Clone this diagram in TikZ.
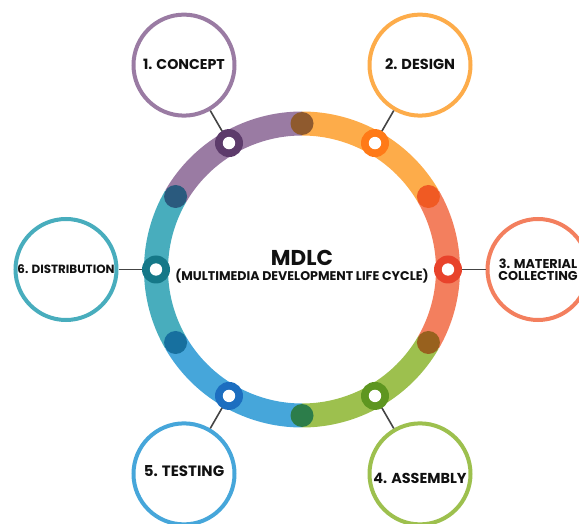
\documentclass[tikz,border=0pt]{standalone}
\usepackage{fontspec}
\setmainfont{Poppins}
\definecolor{cPur}{HTML}{9A7BA3}
\definecolor{cOra}{HTML}{FDAC4A}
\definecolor{cSal}{HTML}{F37F5E}
\definecolor{cGre}{HTML}{9DC04E}
\definecolor{cBlu}{HTML}{46A6DA}
\definecolor{cTea}{HTML}{48ADBD}
\definecolor{dPur}{HTML}{5D3B6B}
\definecolor{dOra}{HTML}{FF7A17}
\definecolor{dSal}{HTML}{E8432B}
\definecolor{dGre}{HTML}{5E9620}
\definecolor{dBlu}{HTML}{1C6EC0}
\definecolor{dTea}{HTML}{157888}
\definecolor{sTop}{HTML}{8F5A2E}
\definecolor{sUR}{HTML}{F05A23}
\definecolor{sLR}{HTML}{98611E}
\definecolor{sBot}{HTML}{2C7D4A}
\definecolor{sLL}{HTML}{17709F}
\definecolor{sUL}{HTML}{2A5A7E}
\definecolor{txt}{HTML}{111111}
\definecolor{lineg}{HTML}{444444}
\tikzset{
  outer/.style={circle, minimum size=101, line width=4, fill=white, inner sep=0},
  lbl/.style={text=txt, font=\bfseries, align=center, inner sep=0},
  wdot/.style={circle, minimum size=28, inner sep=0},
  sdot/.style={circle, minimum size=23, inner sep=0},
  conn/.style={draw=lineg, line width=1.6},
  band/.style={line width=24}
}
\begin{document}
\begin{tikzpicture}[x=1pt,y=1pt]
\useasboundingbox (0,0) rectangle (579,523);
\clip (0,0) rectangle (579,523);
\coordinate (c) at (302,253.5);
\def\R{146}
\def\D{236}
% ring
\foreach \a/\col in {90/cPur,30/cOra,-30/cSal,-90/cGre,-150/cBlu,150/cTea}
  \draw[band,\col] ([shift={(c)}]\a:\R) arc[start angle=\a, end angle=\a+60, radius=\R];
% outer circles
\node[outer, draw=cPur] (concept) at ([shift={(c)}]120:\D) {};
\node[outer, draw=cOra] (design) at ([shift={(c)}]60:\D) {};
\node[outer, draw=cSal] (material) at ([shift={(c)}]0:\D) {};
\node[outer, draw=cGre] (assembly) at ([shift={(c)}]-60:\D) {};
\node[outer, draw=cBlu] (testing) at ([shift={(c)}]-120:\D) {};
\node[outer, draw=cTea] (distribution) at ([shift={(c)}]180:\D) {};
% labels
\node[lbl] (tconcept) at ([yshift=1]concept.center) {\fontsize{14.2}{14}\selectfont 1. CONCEPT};
\node[lbl] (tdesign) at ([yshift=1]design.center) {\fontsize{14.5}{14}\selectfont 2. DESIGN};
\node[lbl] (tmaterial) at ([yshift=0]material.center) {\fontsize{12.8}{10.5}\selectfont 3. MATERIAL\\\fontsize{12.8}{10.5}\selectfont COLLECTING};
\node[lbl] (tassembly) at ([yshift=-4]assembly.center) {\fontsize{14.4}{14}\selectfont 4. ASSEMBLY};
\node[lbl] (ttesting) at ([yshift=3]testing.center) {\fontsize{15}{15}\selectfont 5. TESTING};
\node[lbl] (tdistribution) at ([yshift=0]distribution.center) {\fontsize{11.9}{12}\selectfont 6. DISTRIBUTION};
% dot positions
\foreach \a/\n in {120/p1,60/p2,0/p3,-60/p4,-120/p5,180/p6}
  \coordinate (\n) at ([shift={(c)}]\a:\R);
% connectors
\draw[conn] (p1) -- (concept);
\draw[conn] (p2) -- (design);
\draw[conn] (p3) -- (material);
\draw[conn] (p4) -- (assembly);
\draw[conn] (p5) -- (testing);
\draw[conn] (p6) -- (distribution);
% white-centre dots
\foreach \n/\col in {p1/dPur,p2/dOra,p3/dSal,p4/dGre,p5/dBlu,p6/dTea}{
  \node[wdot, fill=\col] (w\n) at (\n) {};
  \fill[white] (w\n.center) circle (6.2);
}
% solid dots
\foreach \a/\col/\n in {90/sTop/s1,30/sUR/s2,-30/sLR/s3,-90/sBot/s4,-150/sLL/s5,150/sUL/s6}
  \node[sdot, fill=\col] (\n) at ([shift={(c)}]\a:\R) {};
% title
\node[text=txt, inner sep=0, font=\bfseries\fontsize{21.5}{21}\selectfont] (title) at (302,265) {MDLC};
\node[text=txt, inner sep=0, font=\bfseries\fontsize{12.6}{12}\selectfont] (subtitle) at (302,247) {(MULTIMEDIA DEVELOPMENT LIFE CYCLE)};
\end{tikzpicture}
\end{document}
